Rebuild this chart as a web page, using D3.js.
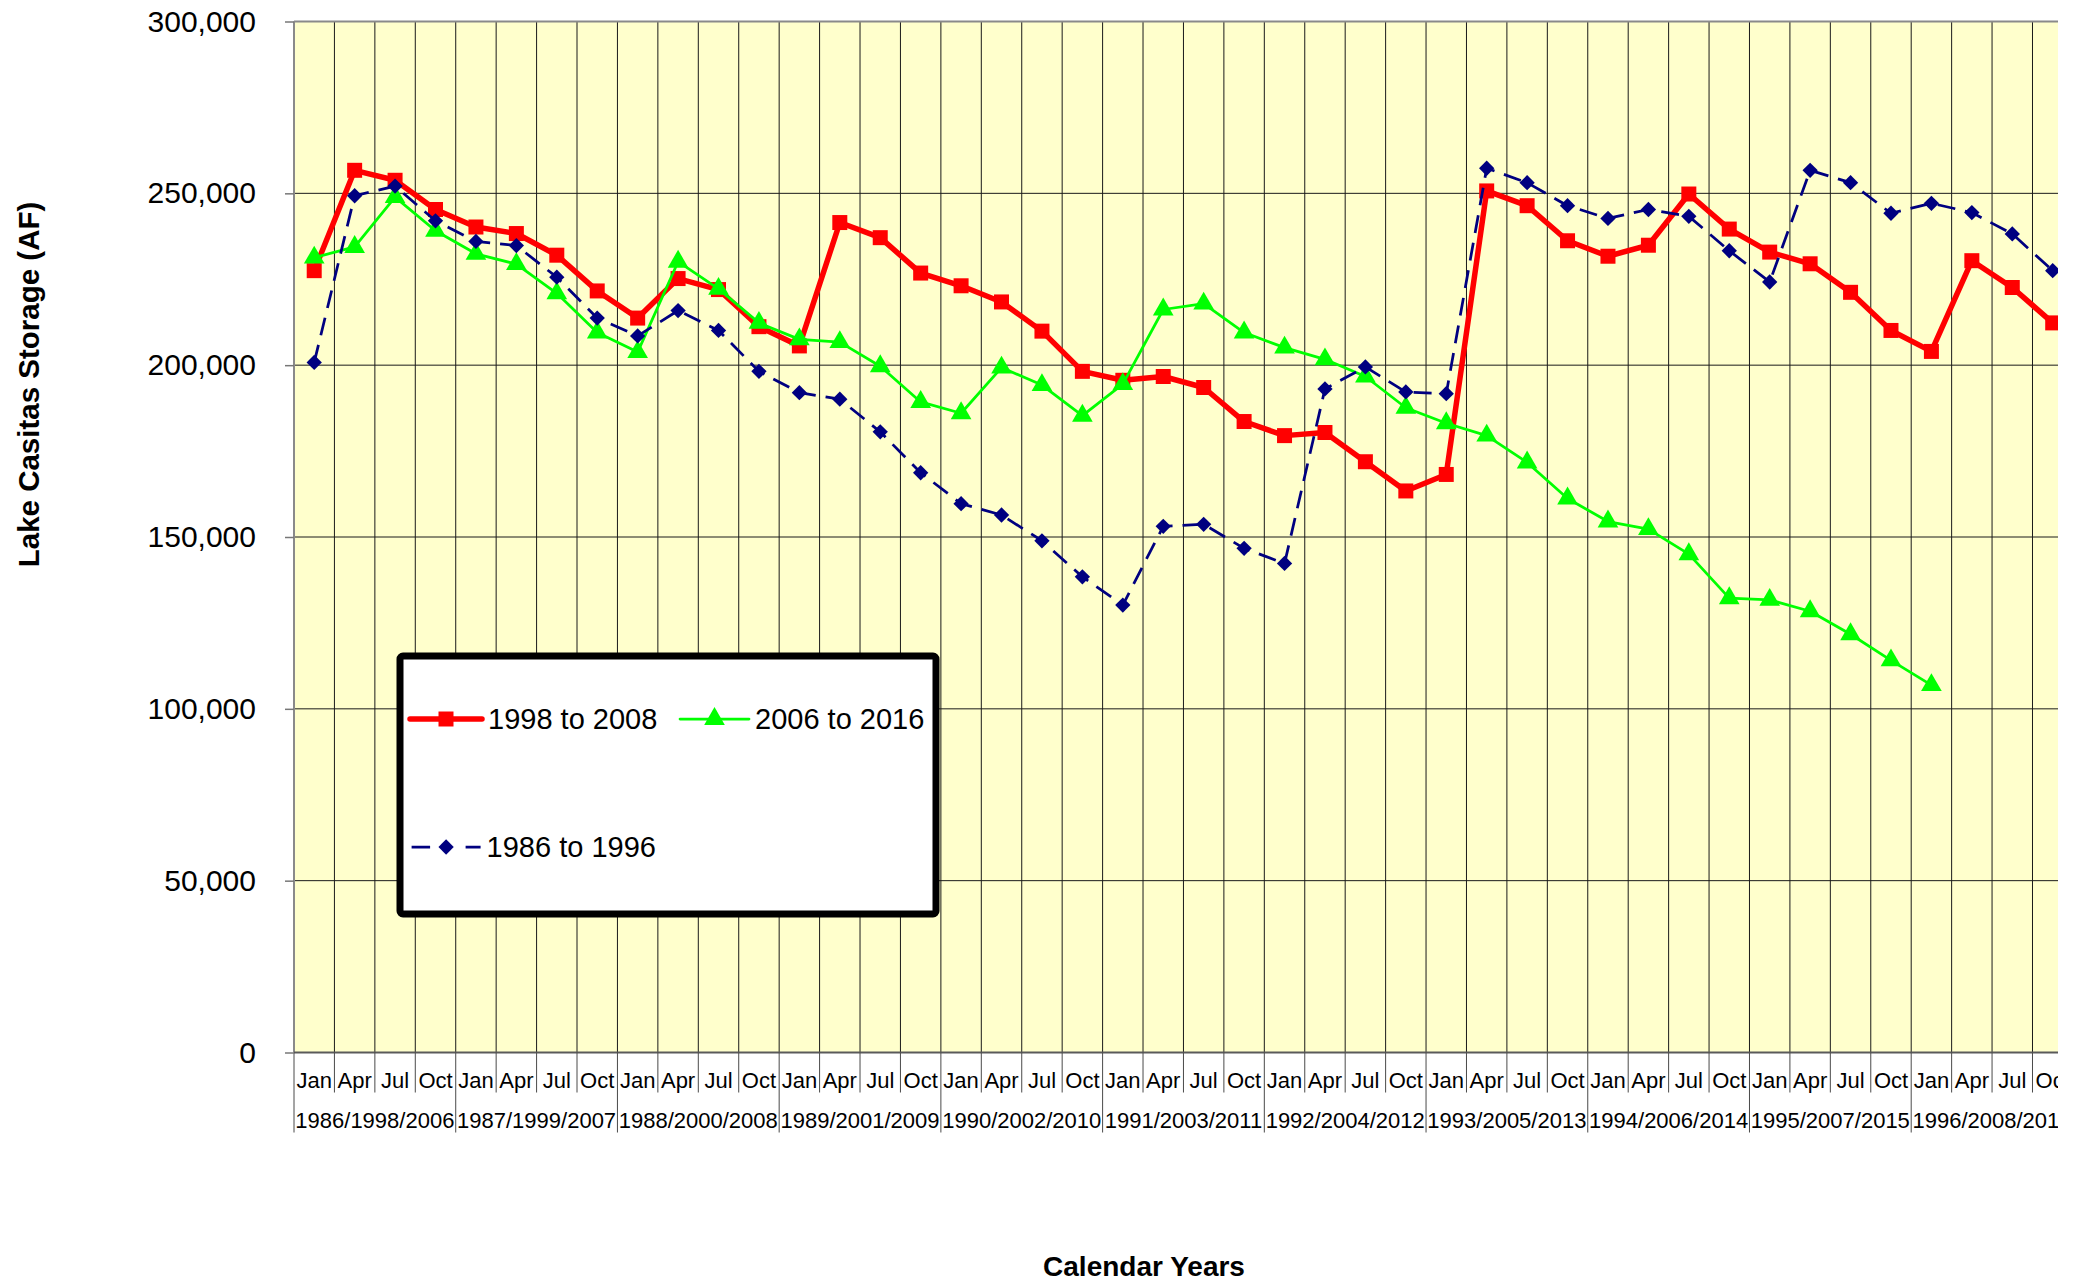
<!DOCTYPE html>
<html>
<head>
<meta charset="utf-8">
<script src="https://cdn.jsdelivr.net/npm/d3@7"></script>
<style>
  body { margin: 0; background: #fff; }
  svg { display: block; font-family: 'Liberation Sans', Arial, sans-serif; }
</style>
</head>
<body>
<div id="chart"></div>
<script>
// Quarterly storage, three overlapping 11 year windows
const quarters = ['Jan', 'Apr', 'Jul', 'Oct'];
const yearGroups = ['1986/1998/2006', '1987/1999/2007', '1988/2000/2008', '1989/2001/2009',
  '1990/2002/2010', '1991/2003/2011', '1992/2004/2012', '1993/2005/2013',
  '1994/2006/2014', '1995/2007/2015', '1996/2008/2016'];
const categories = yearGroups.flatMap(g => quarters.map(q => q + ' ' + g));

const yTicks = [0, 50000, 100000, 150000, 200000, 250000, 300000];

const storage1998 = [227500, 256700, 253800, 245300, 240200, 238300, 232000, 221600,
  213700, 225200, 222000, 211200, 205600, 241500, 237100, 226800,
  223100, 218400, 209900, 198200, 195600, 196700, 193500, 183600,
  179500, 180400, 171900, 163400, 168200, 250700, 246400, 236200,
  231700, 234900, 249800, 239600, 232900, 229500, 221200, 210100,
  204000, 230400, 222600, 212300];

const storage2006 = [231300, 234400, 248900, 239100, 232400, 229400, 220900, 209500,
  203800, 230100, 222200, 212300, 207500, 206700, 199700, 189300,
  186000, 199300, 194200, 185300, 194500, 216200, 217900, 209500,
  205100, 201700, 196700, 187600, 183100, 179500, 171700, 161200,
  154500, 152300, 145000, 132200, 131700, 128400, 121700, 114100,
  106900];

const storage1986 = [200800, 249300, 252100, 242000, 236000, 234800, 225600, 213700,
  208500, 215900, 210100, 198200, 192000, 190100, 180600, 168700,
  159700, 156400, 148900, 138400, 130200, 153100, 153700, 146700,
  142300, 193100, 199500, 192200, 191700, 257300, 253100, 246400,
  242700, 245300, 243300, 233300, 224200, 256700, 253100, 244200,
  247100, 244400, 238200, 227500];

const seriesNames = ['1998 to 2008', '2006 to 2016', '1986 to 1996'];

class StorageChart {
  constructor(_config) {
    this.config = {
      parentElement: _config.parentElement,
      // the original picture is cut off on the right, so the svg is narrower than the plot
      containerWidth: _config.containerWidth || 2058,
      containerHeight: _config.containerHeight || 1284,
      margin: _config.margin || { top: 21.5, left: 294, bottom: 231.5 },
      bandWidth: 40.43
    };
    this.initVis();
  }

  initVis() {
    let vis = this;
    const m = vis.config.margin;

    vis.height = vis.config.containerHeight - m.top - m.bottom;
    vis.width = categories.length * vis.config.bandWidth;

    vis.xScale = d3.scaleBand()
      .domain(categories)
      .range([0, vis.width])
      .padding(0);

    vis.yScale = d3.scaleLinear()
      .domain([0, 300000])
      .range([vis.height, 0]);

    vis.yAxis = d3.axisLeft(vis.yScale)
      .tickValues(yTicks)
      .tickSize(9)
      .tickPadding(29)
      .tickFormat(d3.format(','));

    vis.xAxis = d3.axisBottom(vis.xScale)
      .tickSize(0)
      .tickFormat(d => d.split(' ')[0]);

    vis.svg = d3.select(vis.config.parentElement).append('svg')
      .attr('width', vis.config.containerWidth)
      .attr('height', vis.config.containerHeight);

    vis.chart = vis.svg.append('g')
      .attr('transform', `translate(${m.left},${m.top})`);

    // yellow plot area
    vis.chart.append('rect')
      .attr('width', vis.width)
      .attr('height', vis.height)
      .attr('fill', '#ffffcc');

    vis.gridG = vis.chart.append('g').attr('class', 'grid');
    vis.xAxisG = vis.chart.append('g')
      .attr('class', 'axis x-axis')
      .attr('transform', `translate(0,${vis.height})`);
    vis.yAxisG = vis.chart.append('g').attr('class', 'axis y-axis');
    vis.seriesG = vis.chart.append('g').attr('class', 'series');

    // axis titles
    vis.svg.append('text')
      .attr('class', 'axis-title')
      .attr('x', 1144)
      .attr('y', 1276)
      .attr('text-anchor', 'middle')
      .attr('font-size', 28)
      .attr('font-weight', 'bold')
      .text('Calendar Years');

    vis.svg.append('text')
      .attr('class', 'axis-title')
      .attr('transform', 'translate(39,384.5) rotate(-90)')
      .attr('text-anchor', 'middle')
      .attr('font-size', 29.5)
      .attr('font-weight', 'bold')
      .text('Lake Casitas Storage (AF)');

    vis.series = [
      { name: seriesNames[0], values: storage1998, color: '#ff0000', width: 5.5, dash: null,
        symbol: d3.symbol().type(d3.symbolSquare).size(225), rotate: 0 },
      { name: seriesNames[1], values: storage2006, color: '#00ff00', width: 2.75, dash: null,
        symbol: d3.symbol().type(d3.symbolTriangle).size(185), rotate: 0 },
      { name: seriesNames[2], values: storage1986, color: '#000080', width: 2.75, dash: '18,10',
        symbol: d3.symbol().type(d3.symbolSquare).size(117), rotate: 45 }
    ];

    vis.renderVis();
  }

  renderVis() {
    let vis = this;
    const bw = vis.xScale.bandwidth();
    const cx = i => vis.xScale(categories[i]) + bw / 2;

    // horizontal grid lines
    vis.gridG.selectAll('.h-grid')
      .data(yTicks.slice(1, -1))
      .join('line')
      .attr('class', 'h-grid')
      .attr('x1', 0).attr('x2', vis.width)
      .attr('y1', d => vis.yScale(d)).attr('y2', d => vis.yScale(d))
      .attr('stroke', '#1a1a1a')
      .attr('stroke-width', 1);

    // vertical grid lines between the quarters
    vis.gridG.selectAll('.v-grid')
      .data(categories.slice(1))
      .join('line')
      .attr('class', 'v-grid')
      .attr('x1', d => vis.xScale(d)).attr('x2', d => vis.xScale(d))
      .attr('y1', 0).attr('y2', vis.height)
      .attr('stroke', '#1a1a1a')
      .attr('stroke-width', 1);

    // plot border (top, left, bottom)
    vis.gridG.append('line')
      .attr('x1', 0).attr('x2', vis.width)
      .attr('y1', vis.yScale(300000)).attr('y2', vis.yScale(300000))
      .attr('stroke', '#8a8a8a').attr('stroke-width', 2);
    vis.gridG.append('line')
      .attr('x1', 0).attr('x2', 0)
      .attr('y1', 0).attr('y2', vis.height)
      .attr('stroke', '#8a8a8a').attr('stroke-width', 2);
    vis.gridG.append('line')
      .attr('x1', 0).attr('x2', vis.width)
      .attr('y1', vis.height).attr('y2', vis.height)
      .attr('stroke', '#5a5a5a').attr('stroke-width', 2);

    // y axis
    vis.yAxisG.call(vis.yAxis)
      .call(g => g.select('.domain').remove());
    vis.yAxisG.selectAll('.tick line').attr('stroke', '#777').attr('stroke-width', 1.5);
    vis.yAxisG.selectAll('.tick text')
      .attr('font-size', 30)
      .attr('font-family', "'Liberation Sans', Arial, sans-serif")
      .attr('fill', '#000');

    // x axis: month labels
    vis.xAxisG.call(vis.xAxis)
      .call(g => g.select('.domain').remove());
    vis.xAxisG.selectAll('.tick text')
      .attr('y', 0)
      .attr('dy', 35)
      .attr('font-size', 22)
      .attr('font-family', "'Liberation Sans', Arial, sans-serif")
      .attr('fill', '#000');

    // separators under the axis, longer ones between the year groups
    vis.xAxisG.selectAll('.sep')
      .data(categories)
      .join('line')
      .attr('class', 'sep')
      .attr('x1', d => vis.xScale(d)).attr('x2', d => vis.xScale(d))
      .attr('y1', 0)
      .attr('y2', (d, i) => i % 4 === 0 ? 80 : 40)
      .attr('stroke', '#4a4a4a')
      .attr('stroke-width', 1);

    // year group labels (the axis group has fill none, so set it here)
    vis.xAxisG.selectAll('.year-label')
      .data(yearGroups)
      .join('text')
      .attr('class', 'year-label')
      .attr('x', (d, i) => vis.xScale(categories[i * 4]) + 2 * bw)
      .attr('y', 75.5)
      .attr('text-anchor', 'middle')
      .attr('font-size', 22)
      .attr('font-family', "'Liberation Sans', Arial, sans-serif")
      .attr('fill', '#000')
      .text(d => d);

    // series lines and markers
    const line = d3.line()
      .x((d, i) => cx(i))
      .y(d => vis.yScale(d));

    vis.series.forEach(s => {
      const g = vis.seriesG.append('g');
      g.append('path')
        .datum(s.values)
        .attr('d', line)
        .attr('fill', 'none')
        .attr('stroke', s.color)
        .attr('stroke-width', s.width)
        .attr('stroke-linejoin', 'round')
        .attr('stroke-dasharray', s.dash);
      g.selectAll('.marker')
        .data(s.values)
        .join('path')
        .attr('class', 'marker')
        .attr('d', s.symbol)
        .attr('transform', (d, i) => `translate(${cx(i)},${vis.yScale(d)}) rotate(${s.rotate})`)
        .attr('fill', s.color);
    });

    vis.addLegend();
  }

  addLegend() {
    let vis = this;
    const legend = vis.svg.append('g')
      .attr('class', 'legend')
      .attr('transform', 'translate(400,656)');

    legend.append('rect')
      .attr('width', 536)
      .attr('height', 258)
      .attr('rx', 3)
      .attr('fill', '#fff')
      .attr('stroke', '#000')
      .attr('stroke-width', 7);

    const items = [
      { s: vis.series[0], x1: 10, x2: 82, y: 63 },
      { s: vis.series[1], x1: 280, x2: 349, y: 63 },
      { s: vis.series[2], x1: 11.6, x2: 80.6, y: 191 }
    ];

    items.forEach(it => {
      const g = legend.append('g');
      g.append('line')
        .attr('x1', it.x1).attr('x2', it.x2)
        .attr('y1', it.y).attr('y2', it.y)
        .attr('stroke', it.s.color)
        .attr('stroke-width', it.s.width)
        .attr('stroke-linecap', it.s.dash ? 'butt' : 'round')
        .attr('stroke-dasharray', it.s.dash ? '18.5,35.5,15' : null);
      g.append('path')
        .attr('d', it.s.symbol)
        .attr('transform', `translate(${(it.x1 + it.x2) / 2},${it.y}) rotate(${it.s.rotate})`)
        .attr('fill', it.s.color);
      g.append('text')
        .attr('x', it.x2 + 6)
        .attr('y', it.y)
        .attr('dy', '0.36em')
        .attr('font-size', 29)
        .text(it.s.name);
    });
  }
}

new StorageChart({ parentElement: '#chart' });
</script>
</body>
</html>
